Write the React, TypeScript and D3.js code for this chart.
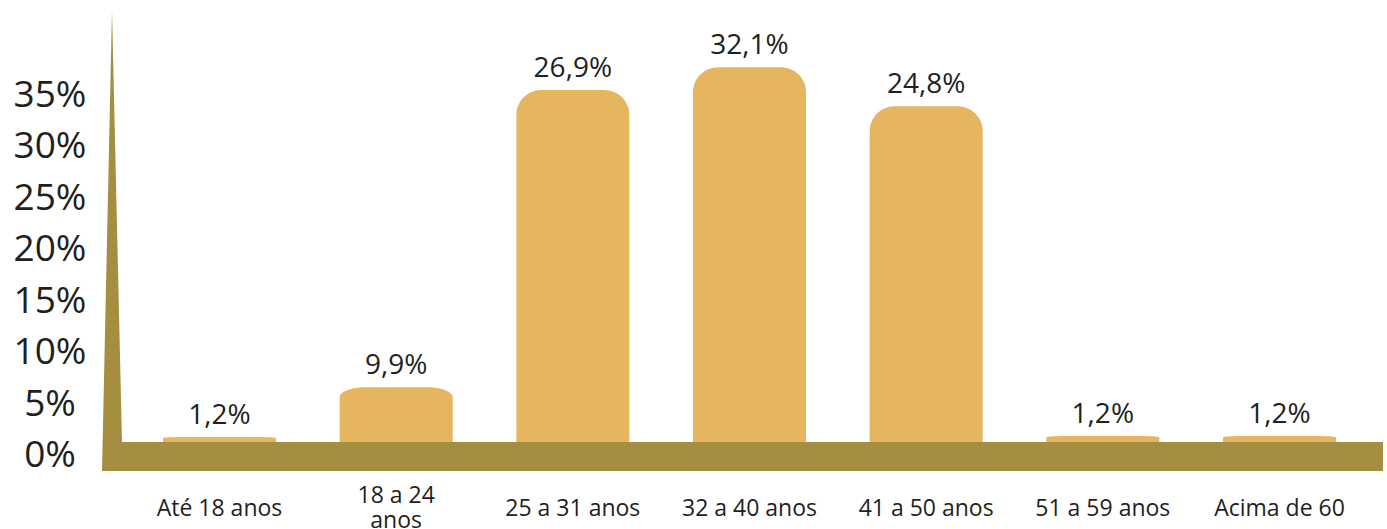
import React from "react";
import * as d3 from "d3";

// Categories (age ranges) — second line used for wrapped labels
const categories: string[][] = [
  ["Até 18 anos"],
  ["18 a 24", "anos"],
  ["25 a 31 anos"],
  ["32 a 40 anos"],
  ["41 a 50 anos"],
  ["51 a 59 anos"],
  ["Acima de 60"],
];

// Printed values (%)
const values: number[] = [1.2, 9.9, 26.9, 32.1, 24.8, 1.2, 1.2];

// Bar heights as drawn in the picture, read against the y axis (the original is not to scale)
const drawnLevels: number[] = [1.65, 6.5, 35.4, 37.6, 33.8, 1.75, 1.75];

// Y axis tick labels
const yTicks: number[] = [0, 5, 10, 15, 20, 25, 30, 35];

const W = 1387;
const H = 529;
const FLOOR_TOP = 442;
const FLOOR_BOTTOM = 471;
const AXIS_TIP = { x: 112, y: 10 };
const AXIS_LEFT = 102;
const AXIS_RIGHT = 122;
const FLOOR_END = 1383;
const BAR_W = 113;

const BAR_COLOR = "#E6B55F";
const FLOOR_COLOR = "#A68E40";
const TEXT_COLOR = "#231F20";
const FONT = "'Open Sans', 'Noto Sans', sans-serif";

const fmt = (v: number) => d3.format(".1f")(v).replace(".", ",") + "%";

function barPath(x0: number, x1: number, top: number, bottom: number): string {
  const h = bottom - top;
  const rx = 25;
  const ry = Math.min(25, Math.max(1, h * 0.18));
  const p = d3.path();
  p.moveTo(x0, bottom);
  p.lineTo(x0, top + ry);
  p.bezierCurveTo(x0, top + ry * 0.45, x0 + rx * 0.45, top, x0 + rx, top);
  p.lineTo(x1 - rx, top);
  p.bezierCurveTo(x1 - rx * 0.45, top, x1, top + ry * 0.45, x1, top + ry);
  p.lineTo(x1, bottom);
  p.closePath();
  return p.toString();
}

export default function App() {
  const y = d3.scaleLinear().domain([0, 35]).range([454, 94]);
  const x = d3
    .scalePoint<number>()
    .domain(d3.range(categories.length))
    .range([219.5, 1279.5]);

  const axisShape = [
    [AXIS_TIP.x, AXIS_TIP.y],
    [AXIS_RIGHT, FLOOR_TOP],
    [FLOOR_END, FLOOR_TOP],
    [FLOOR_END, FLOOR_BOTTOM],
    [AXIS_LEFT, FLOOR_BOTTOM],
  ] as [number, number][];
  const axisPath = d3.line()(axisShape) + "Z";

  return (
    <svg
      width={W}
      height={H}
      style={{ position: "absolute", left: 0, top: 0, display: "block", background: "#fff" }}
      fontFamily={FONT}
    >
      {/* Y tick labels */}
      {yTicks.map((t) => (
        <text
          key={t}
          x={50}
          y={y(t) + 13}
          textAnchor="middle"
          fontSize={37}
          fill={TEXT_COLOR}
        >
          {t}%
        </text>
      ))}

      {/* Bars */}
      {values.map((v, i) => {
        const cx = x(i)!;
        const top = y(drawnLevels[i]);
        return (
          <g key={i}>
            <path d={barPath(cx - BAR_W / 2, cx + BAR_W / 2, top, FLOOR_TOP + 1)} fill={BAR_COLOR} />
            <text
              x={cx}
              y={top - 13}
              textAnchor="middle"
              fontSize={28}
              fill={TEXT_COLOR}
            >
              {fmt(v)}
            </text>
          </g>
        );
      })}

      {/* Axis + floor */}
      <path d={axisPath} fill={FLOOR_COLOR} />

      {/* Category labels */}
      {categories.map((lines, i) => {
        const cx = x(i)!;
        const base = lines.length > 1 ? 503 : 516;
        return (
          <text key={i} x={cx} textAnchor="middle" fontSize={23} fill={TEXT_COLOR}>
            {lines.map((l, j) => (
              <tspan key={j} x={cx} y={base + j * 25}>
                {l}
              </tspan>
            ))}
          </text>
        );
      })}
    </svg>
  );
}
